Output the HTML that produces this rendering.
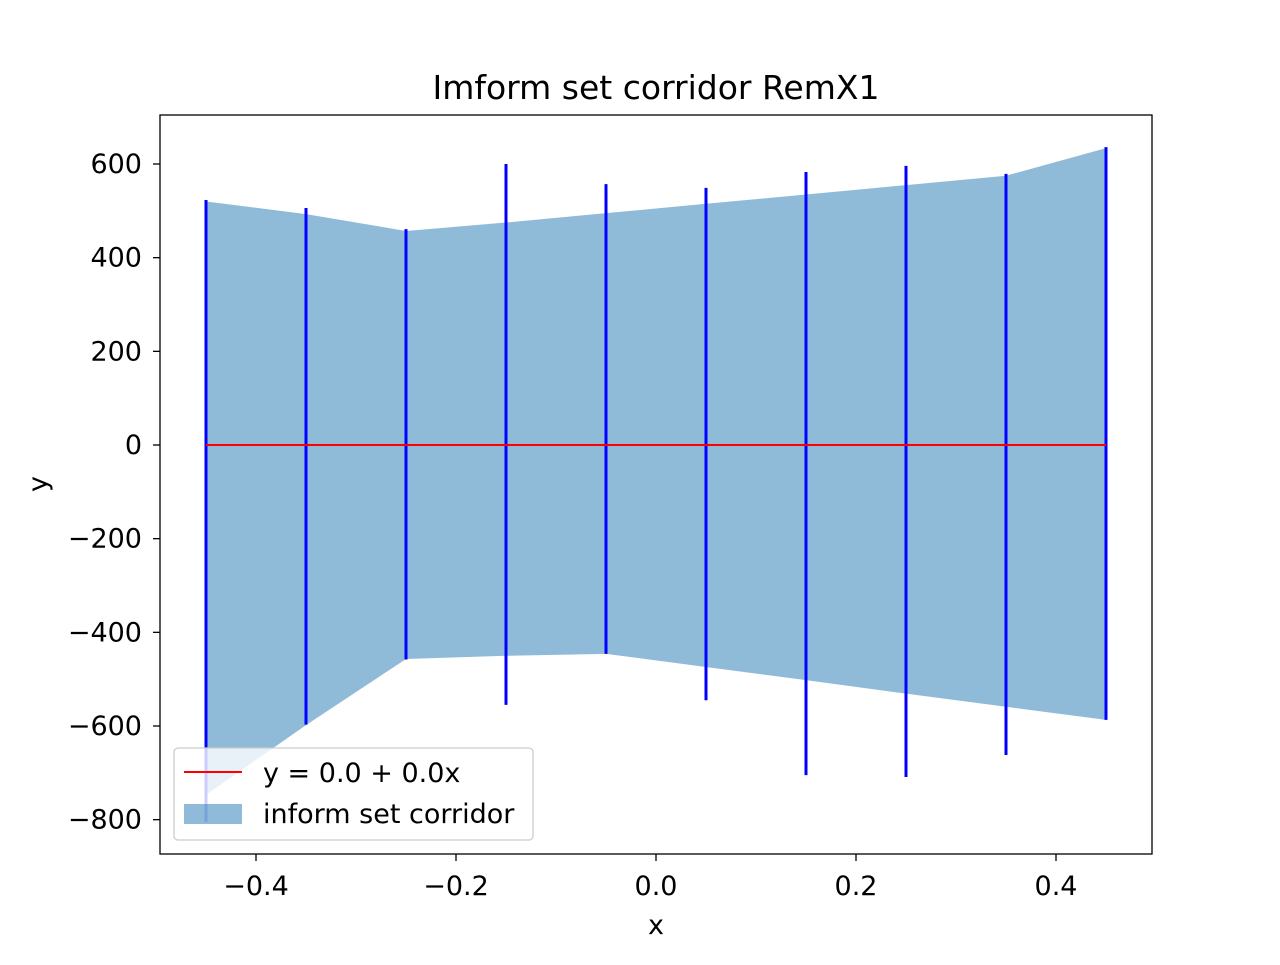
<!DOCTYPE html>
<html><head><meta charset="utf-8"><style>
body{margin:0;background:#fff;}
svg text{font-family:"DejaVu Sans","Liberation Sans",sans-serif;fill:#000;}
</style></head><body>
<svg id="chart" width="1280" height="960" viewBox="0 0 1280 960" xmlns="http://www.w3.org/2000/svg">
<rect width="1280" height="960" fill="#fff"/>
<g id="plot"></g>
</svg>
<script>
const xs=[-0.45,-0.35,-0.25,-0.15,-0.05,0.05,0.15,0.25,0.35,0.45];
const barTop=[523,506,461,600,557,549,583,596,579,636];
const barBottom=[-805,-597,-458,-555,-446,-545,-705,-709,-662,-587];
const fillUpper=[520,493,457,475,495,515,535,555,575,634];
const fillLower=[-747,-598,-457,-450,-446,-474,-502,-531,-559,-587];
const xTicks=[-0.4,-0.2,0.0,0.2,0.4];
const xTickLabels=["\u22120.4","\u22120.2","0.0","0.2","0.4"];
const yTicks=[600,400,200,0,-200,-400,-600,-800];
const yTickLabels=["600","400","200","0","\u2212200","\u2212400","\u2212600","\u2212800"];

const X=v=>656+1000*v;
const Y=v=>445-v*0.468333;
const NS="http://www.w3.org/2000/svg";
const g=document.getElementById('plot');
function mk(t,a,p){const e=document.createElementNS(NS,t);for(const k in a)e.setAttribute(k,a[k]);(p||g).appendChild(e);return e;}

let pts=xs.map((x,i)=>X(x)+','+Y(fillUpper[i]));
for(let i=xs.length-1;i>=0;i--)pts.push(X(xs[i])+','+Y(fillLower[i]));
const poly=mk('polygon',{points:pts.join(' '),fill:'#1f77b4','fill-opacity':0.5});



xs.forEach((x,i)=>{
  const l=mk('line',{x1:X(x),x2:X(x),y1:Y(barTop[i]),y2:Y(barBottom[i]),stroke:'#0000ff','stroke-width':3});
  
  
});
const rl=mk('line',{x1:X(xs[0]),x2:X(xs[xs.length-1]),y1:Y(0),y2:Y(0),stroke:'#ff0000','stroke-width':2});



const frame=mk('rect',{x:160,y:115,width:992,height:739,fill:'none',stroke:'#000','stroke-width':1.3});



xTicks.forEach((v,i)=>{
  mk('line',{x1:X(v),x2:X(v),y1:854,y2:861,stroke:'#000','stroke-width':1.3});
  const t=mk('text',{x:X(v),y:895,'text-anchor':'middle','font-size':27});
  t.textContent=xTickLabels[i];
  
  
});
yTicks.forEach((v,i)=>{
  mk('line',{x1:153,x2:160,y1:Y(v),y2:Y(v),stroke:'#000','stroke-width':1.3});
  const t=mk('text',{x:142,y:Y(v)+9,'text-anchor':'end','font-size':27});
  t.textContent=yTickLabels[i];
  
  
});
const tt=mk('text',{x:656,y:99,'text-anchor':'middle','font-size':33});
tt.textContent='Imform set corridor RemX1';


const xl=mk('text',{x:656,y:934,'text-anchor':'middle','font-size':27});
xl.textContent='x';


const yl=mk('text',{x:47,y:484,'text-anchor':'middle','font-size':27,transform:'rotate(-90 47 484)'});
yl.textContent='y';



const lg=mk('g',{});


mk('rect',{x:174,y:748,width:359,height:92,rx:4,fill:'#fff','fill-opacity':0.8,stroke:'#ccc','stroke-width':1.3},lg);
mk('line',{x1:184,x2:242,y1:772,y2:772,stroke:'#ff0000','stroke-width':2},lg);
const t1=mk('text',{x:263,y:782,'font-size':27},lg);t1.textContent='y = 0.0 + 0.0x';


mk('rect',{x:184,y:804,width:58,height:20,fill:'#1f77b4','fill-opacity':0.5},lg);
const t2=mk('text',{x:263,y:823,'font-size':27},lg);t2.textContent='inform set corridor';


</script>
</body></html>
